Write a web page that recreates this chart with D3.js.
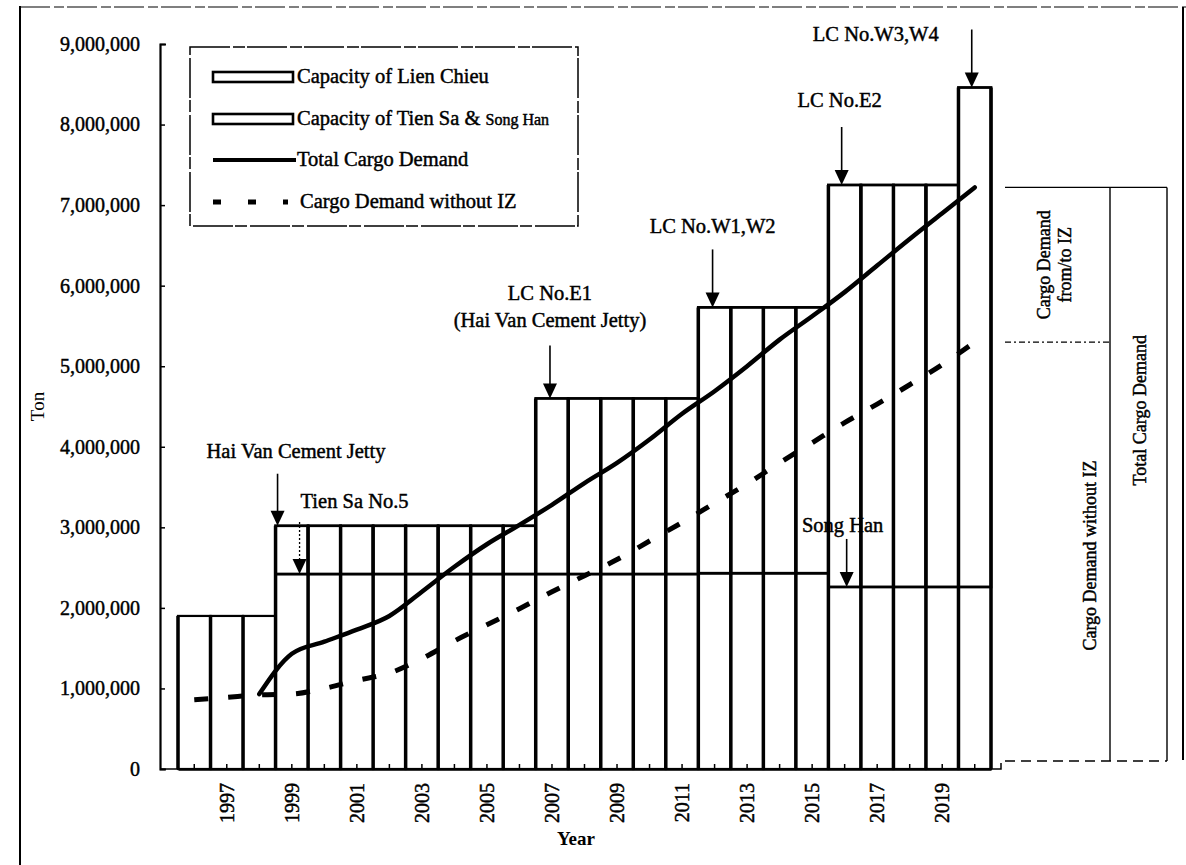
<!DOCTYPE html>
<html lang="en">
<head>
<meta charset="UTF-8">
<title>Port Capacity and Cargo Demand</title>
<script src="https://d3js.org/d3.v7.min.js"></script>
<style>
  body { margin: 0; background: #fff; }
  svg { display: block; }
  text { font-family: "Liberation Serif", "Times New Roman", serif; fill: #000; }
  .thick text { stroke: #000; stroke-width: 0.45px; }
</style>
</head>
<body>
<div id="chart"></div>
<script>
// Data
const years = [1996, 1997, 1998, 1999, 2000, 2001, 2002, 2003, 2004, 2005, 2006, 2007, 2008,
               2009, 2010, 2011, 2012, 2013, 2014, 2015, 2016, 2017, 2018, 2019, 2020];

const capTienSaSongHan = [1900000, 1900000, 1900000,
  2420000, 2420000, 2420000, 2420000, 2420000, 2420000, 2420000, 2420000,
  2420000, 2420000, 2420000, 2420000, 2420000,
  2430000, 2430000, 2430000, 2430000,
  2260000, 2260000, 2260000, 2260000, 2260000];

const capLienChieu = [0, 0, 0,
  600000, 600000, 600000, 600000, 600000, 600000, 600000, 600000,
  2180000, 2180000, 2180000, 2180000, 2180000,
  3300000, 3300000, 3300000, 3300000,
  4990000, 4990000, 4990000, 4990000, 6200000];

const totalDemand = [null, null, 930000, 1430000, 1580000, 1730000, 1900000, 2200000, 2510000,
  2790000, 3030000, 3280000, 3550000, 3800000, 4090000, 4410000, 4690000, 5000000, 5330000,
  5620000, 5920000, 6250000, 6580000, 6900000, 7220000];

const demandWithoutIZ = [860000, 890000, 920000, 930000, 1000000, 1100000, 1190000, 1370000,
  1590000, 1790000, 1990000, 2200000, 2400000, 2600000, 2830000, 3060000, 3300000, 3540000,
  3800000, 4050000, 4300000, 4530000, 4770000, 5020000, 5300000];

const yTicks = [0, 1000000, 2000000, 3000000, 4000000, 5000000, 6000000, 7000000, 8000000, 9000000];
const xTickYears = [1997, 1999, 2001, 2003, 2005, 2007, 2009, 2011, 2013, 2015, 2017, 2019];

const legendItems = ["Capacity of Lien Chieu", "Capacity of Tien Sa & ",
                     "Total Cargo Demand", "Cargo Demand without IZ"];

// annotations: label lines, year, and what the arrow points at
const annotations = [
  { lines: ["Hai Van Cement Jetty"], year: 1999, target: "top" },
  { lines: ["Tien Sa No.5"], year: 1999, target: "base", dotted: true },
  { lines: ["LC No.E1", "(Hai Van Cement Jetty)"], year: 2007, target: "top" },
  { lines: ["LC No.W1,W2"], year: 2012, target: "top" },
  { lines: ["LC No.E2"], year: 2016, target: "top" },
  { lines: ["LC No.W3,W4"], year: 2020, target: "top" },
  { lines: ["Song Han"], year: 2016, target: "base" }
];

const rows = years.map((yr, i) => ({
  year: yr,
  tiensa: capTienSaSongHan[i],
  lienchieu: capLienChieu[i],
  total: totalDemand[i],
  noIZ: demandWithoutIZ[i]
}));

const W = 1186, H = 865;
const svg = d3.select("#chart").append("svg")
  .attr("width", W).attr("height", H);

svg.append("rect").attr("width", W).attr("height", H).attr("fill", "#fff");

// scanned page frame
svg.append("line").attr("x1", 20).attr("x2", 20).attr("y1", 6).attr("y2", H)
  .attr("stroke", "#000").attr("stroke-width", 2);
svg.append("line").attr("x1", 20).attr("x2", W).attr("y1", 7).attr("y2", 7)
  .attr("stroke", "#000").attr("stroke-width", 1.2).attr("stroke-dasharray", "30,4,10,3");
svg.append("line").attr("x1", 1183).attr("x2", 1183).attr("y1", 7).attr("y2", 760)
  .attr("stroke", "#000").attr("stroke-width", 2);

// scales
const x = d3.scaleBand().domain(years).range([178, 991]).padding(0);
const y = d3.scaleLinear().domain([0, 9000000]).range([769, 44]);
const bw = x.bandwidth();
const cx = yr => x(yr) + bw / 2;
const axisX = 160;

// bars: stacked capacities
const stack = d3.stack().keys(["tiensa", "lienchieu"])(rows);
const barG = svg.append("g");
stack.forEach((layer, li) => {
  barG.selectAll(null)
    .data(layer.filter(d => d[1] > d[0]))
    .join("rect")
    .attr("x", d => x(d.data.year))
    .attr("width", bw)
    .attr("y", d => y(d[1]))
    .attr("height", d => y(d[0]) - y(d[1]))
    .attr("fill", "#fff")
    .attr("stroke", "#000")
    .attr("stroke-width", li === 0 ? 2.2 : 2.8);
});
// heavier vertical edges like the scan
barG.selectAll(null)
  .data(rows)
  .join("line")
  .attr("x1", d => x(d.year)).attr("x2", d => x(d.year))
  .attr("y1", d => y(d.tiensa + d.lienchieu)).attr("y2", y(0))
  .attr("stroke", "#000").attr("stroke-width", 3.5);
barG.append("line")
  .attr("x1", x(2020) + bw).attr("x2", x(2020) + bw)
  .attr("y1", y(rows[24].tiensa + rows[24].lienchieu)).attr("y2", y(0))
  .attr("stroke", "#000").attr("stroke-width", 3.5);

// lines
const lineTotal = d3.line().defined(d => d.total != null)
  .x(d => cx(d.year)).y(d => y(d.total)).curve(d3.curveMonotoneX);
const lineNoIZ = d3.line()
  .x(d => cx(d.year)).y(d => y(d.noIZ)).curve(d3.curveMonotoneX);

svg.append("path").datum(rows).attr("d", lineNoIZ)
  .attr("fill", "none").attr("stroke", "#000").attr("stroke-width", 5)
  .attr("stroke-dasharray", "14,20");
svg.append("path").datum(rows).attr("d", lineTotal)
  .attr("fill", "none").attr("stroke", "#000").attr("stroke-width", 4.5)
  .attr("stroke-linejoin", "round").attr("stroke-linecap", "round");

// axes
const yAxis = svg.append("g").attr("class", "thick")
  .attr("transform", `translate(${axisX},0)`)
  .call(d3.axisLeft(y).tickValues(yTicks).tickFormat(d3.format(","))
    .tickSizeInner(-5).tickSizeOuter(-6).tickPadding(20));
yAxis.select(".domain").attr("stroke-width", 2.2);
yAxis.selectAll(".tick line").attr("stroke-width", 1.5);
yAxis.selectAll("text").attr("font-size", 20);

const xAxis = svg.append("g").attr("class", "thick")
  .attr("transform", `translate(0,${y(0)})`)
  .call(d3.axisBottom(x).tickValues(xTickYears).tickSizeInner(0).tickSizeOuter(0));
xAxis.select(".domain").attr("stroke-width", 2.5);
xAxis.selectAll("text")
  .attr("font-size", 20)
  .attr("transform", "rotate(-90)")
  .attr("x", -14).attr("y", 0).attr("dy", "0.35em")
  .style("text-anchor", "end");
// small upward ticks at every bar centre
svg.append("g").selectAll("line").data(years).join("line")
  .attr("x1", d => cx(d)).attr("x2", d => cx(d))
  .attr("y1", y(0)).attr("y2", y(0) - 5)
  .attr("stroke", "#000").attr("stroke-width", 1.5);
svg.append("line").attr("x1", axisX).attr("x2", x.range()[0])
  .attr("y1", y(0)).attr("y2", y(0)).attr("stroke", "#000").attr("stroke-width", 1.5);
svg.append("path")
  .attr("d", `M${x.range()[1]},${y(0)}H${x.range()[1] + 10}V${y(0) - 6}`)
  .attr("fill", "none").attr("stroke", "#000").attr("stroke-width", 1.5);

// axis titles
svg.append("text").attr("class", "thick")
  .attr("transform", `translate(44,${(y(0) + y(9000000)) / 2}) rotate(-90)`)
  .attr("text-anchor", "middle").attr("font-size", 19).text("Ton");
svg.append("text")
  .attr("x", 576).attr("y", 845).attr("text-anchor", "middle")
  .attr("font-size", 19).attr("font-weight", "bold").text("Year");

// annotations with arrows
const annLayout = [
  { ax: d => x(d) + 2, len: 52, tx: -71, ty: -68, anchor: "start" },
  { ax: d => x(d) + 24, len: 52, tx: 1, ty: -66, anchor: "start" },
  { ax: d => cx(d) - 2, len: 53, tx: 0, ty: -98, anchor: "middle" },
  { ax: d => cx(d) - 2, len: 58, tx: 0, ty: -74, anchor: "middle" },
  { ax: d => cx(d) - 3, len: 58, tx: -2, ty: -78, anchor: "middle" },
  { ax: d => cx(d) - 3, len: 58, tx: -96, ty: -47, anchor: "middle" },
  { ax: d => cx(d) + 2, len: 48, tx: -4, ty: -55, anchor: "middle" }
];
const annG = svg.append("g").attr("class", "thick");
annotations.forEach((a, i) => {
  const r = rows[years.indexOf(a.year)];
  const L = annLayout[i];
  const ax = L.ax(a.year);
  const tip = a.target === "top" ? y(r.tiensa + r.lienchieu) : y(r.tiensa);
  annG.append("line")
    .attr("x1", ax).attr("x2", ax).attr("y1", tip - L.len).attr("y2", tip - 12)
    .attr("stroke", "#000").attr("stroke-width", a.dotted ? 1.3 : 1.6)
    .attr("stroke-dasharray", a.dotted ? "2,2" : null);
  annG.append("path")
    .attr("d", `M${ax - 7},${tip - 15}L${ax + 7},${tip - 15}L${ax},${tip}Z`)
    .attr("fill", "#000").attr("stroke", "none");
  a.lines.forEach((t, k) => {
    annG.append("text")
      .attr("x", ax + L.tx)
      .attr("y", tip + L.ty + k * 27)
      .attr("text-anchor", L.anchor)
      .attr("font-size", 20.5)
      .text(t);
  });
});

// legend
const lg = svg.append("g").attr("class", "thick");
lg.append("rect").attr("x", 190).attr("y", 47).attr("width", 388).attr("height", 179)
  .attr("fill", "#fff").attr("stroke", "#000").attr("stroke-width", 1.5)
  .attr("stroke-dasharray", "40,3,12,2");
const rowY = [77, 119, 160, 202];
legendItems.forEach((label, i) => {
  const yy = rowY[i];
  if (i < 2) {
    lg.append("rect").attr("x", 213).attr("y", yy - 5).attr("width", 80).attr("height", 10)
      .attr("fill", "#fff").attr("stroke", "#000").attr("stroke-width", 2.6);
  } else if (i === 2) {
    lg.append("line").attr("x1", 213).attr("x2", 296).attr("y1", yy).attr("y2", yy)
      .attr("stroke", "#000").attr("stroke-width", 4);
  } else {
    lg.append("line").attr("x1", 213).attr("x2", 288).attr("y1", yy).attr("y2", yy)
      .attr("stroke", "#000").attr("stroke-width", 5).attr("stroke-dasharray", "8,27");
  }
  const t = lg.append("text").attr("x", i === 3 ? 300 : 297).attr("y", yy + 6)
    .attr("font-size", 20.5).text(label);
  if (i === 1) t.append("tspan").attr("font-size", 16).text("Song Han");
});

// right-hand bracket describing the 2020 demand split
const r20 = rows[24];
const yTop = y(r20.total), yMid = y(r20.noIZ), yBot = y(0);
const br = svg.append("g").attr("class", "thick");
br.append("line").attr("x1", 1005).attr("x2", 1167).attr("y1", yTop).attr("y2", yTop)
  .attr("stroke", "#000").attr("stroke-width", 1.4);
br.append("line").attr("x1", 1005).attr("x2", 1110).attr("y1", yMid).attr("y2", yMid)
  .attr("stroke", "#000").attr("stroke-width", 1.2).attr("stroke-dasharray", "6,3,2,3");
br.append("line").attr("x1", 1005).attr("x2", 1167).attr("y1", yBot - 8).attr("y2", yBot - 8)
  .attr("stroke", "#000").attr("stroke-width", 1.4).attr("stroke-dasharray", "10,6");
br.append("line").attr("x1", 1110).attr("x2", 1110).attr("y1", yTop).attr("y2", yBot - 8)
  .attr("stroke", "#000").attr("stroke-width", 1.4);
br.append("line").attr("x1", 1167).attr("x2", 1167).attr("y1", yTop).attr("y2", yBot - 8)
  .attr("stroke", "#000").attr("stroke-width", 1.4);
const vText = (tx, ty, t) => br.append("text")
  .attr("transform", `translate(${tx},${ty}) rotate(-90)`)
  .attr("text-anchor", "middle").attr("font-size", 18).text(t);
vText(1050, (yTop + yMid) / 2, "Cargo Demand");
vText(1071, (yTop + yMid) / 2, "from/to IZ");
vText(1096, (yMid + yBot) / 2, "Cargo Demand without IZ");
vText(1146, (yTop + yBot) / 2 - 68, "Total Cargo Demand");
</script>
</body>
</html>
